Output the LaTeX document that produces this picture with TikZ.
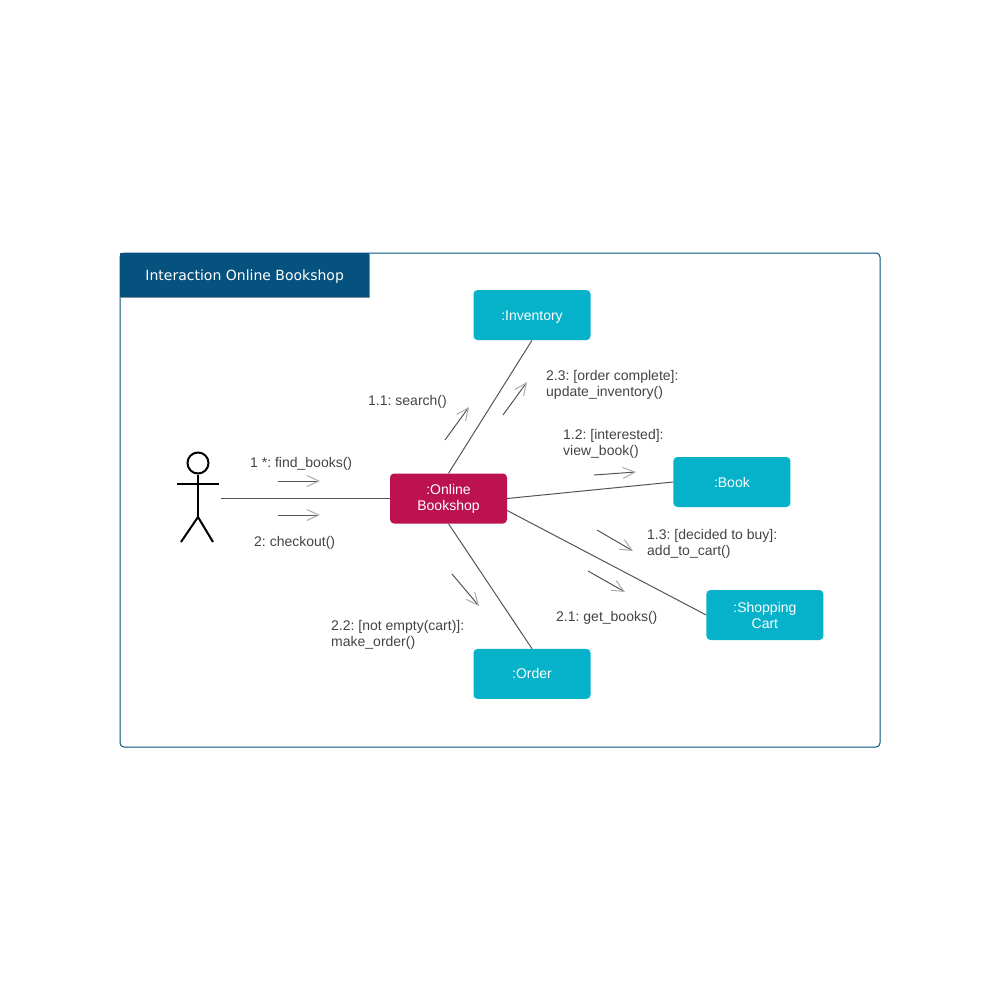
\documentclass[tikz,border=0pt]{standalone}
\usepackage{fontspec}
\setmainfont{Liberation Sans}
\newfontfamily\titlefont{DejaVu Sans}
\usetikzlibrary{arrows.meta,positioning}
\definecolor{shopCrimson}{RGB}{188, 18, 80}
\definecolor{shopTeal}{RGB}{6, 178, 201}
\definecolor{shopNavy}{RGB}{5, 82, 127}
\definecolor{shopEdge}{RGB}{130, 140, 150}
\definecolor{shopLine}{RGB}{85, 85, 85}
\definecolor{shopTip}{RGB}{170, 170, 170}
\definecolor{shopText}{RGB}{68, 68, 68}
\frenchspacing

\begin{document}
\begin{tikzpicture}[
  x=1pt, y=-1pt,
  frame/.style={draw=shopNavy, line width=1pt, rounded corners=4pt, minimum width=760pt, minimum height=494pt, anchor=north west, inner sep=0pt},
  titlebar/.style={fill=shopNavy, minimum width=250pt, minimum height=44.5pt, anchor=north west, inner sep=0pt, text=white, text height=12pt, text depth=0pt, font=\titlefont\fontsize{14}{16}\selectfont},
  part/.style={rounded corners=4pt, minimum width=117pt, minimum height=50pt, inner sep=0pt, align=center, text=white, font=\fontsize{14}{16}\selectfont},
  part teal/.style={part, fill=shopTeal},
  part single/.style={part teal, text height=10pt, text depth=0pt},
  label/.style={anchor=west, inner sep=0pt, align=left, text=shopText, font=\fontsize{14}{16}\selectfont},
  link/.style={draw=shopLine, line width=1pt},
  message/.style={draw=shopLine, line width=1pt, -{Straight Barb[length=12pt, width=11pt, color=shopTip, line width=1pt]}},
  stick/.style={draw=black, line width=2pt}
]
\useasboundingbox (0,0) rectangle (1000,1000);
\fill[white] (0,0) rectangle (1000,1000);
\node[frame] (frame) at (119.5,252.5) {};
\node[titlebar] (title) at (frame.north west) {Interaction Online Bookshop};
\draw[shopEdge, line width=1pt] (title.north east) -- (title.south east) -- (title.south west);

\node[part, fill=shopCrimson] (shop) at (448.5,498.5) {:Online\\Bookshop};
\node[part single, above=133pt of shop, xshift=83.5pt] (inventory) {:Inventory};
\node[part single, right=166pt of shop, yshift=16.5pt] (book) {:Book};
\node[part teal, right=199pt of shop, yshift=-116.5pt] (cart) {:Shopping\\Cart};
\node[part single, below=125pt of shop, xshift=83.5pt] (order) {:Order};

\node[stick, circle, minimum size=21pt, inner sep=0pt] (head) at (198,463) {};
\coordinate (hip) at (198,517);
\coordinate (shoulderL) at (177,484);
\coordinate (shoulderR) at (219,484);
\coordinate (footL) at (181,542);
\coordinate (footR) at (213,542);
\draw[stick] (head) -- (hip);
\draw[stick] (shoulderL) -- (shoulderR);
\draw[stick] (footL) -- (hip) -- (footR);

\coordinate (actor) at (221,498.5);
\draw[link] (actor) -- (shop);
\draw[link] (shop.north) -- (inventory.south);
\draw[link] (shop.east) -- (book.west);
\draw[link] ([yshift=-12pt]shop.east) -- (cart.west);
\draw[link] (shop.south) -- (order.north);

\foreach \name/\fromx/\fromy/\tox/\toy in {
  find/278/481/320/481, checkout/278/515/320/515,
  search/445/440/469/407, update/503/415/527/382,
  view/594/475/636/472, add/597/530/633/551,
  get/588/571/625/592, make/452/574/479/606}{
  \coordinate (\name from) at (\fromx,\fromy);
  \coordinate (\name to) at (\tox,\toy);
  \draw[message] (\name from) -- (\name to);
}

\node[label] (findlabel) at (250,464) {1 *: find\_books()};
\node[label] (checkoutlabel) at (254,543) {2: checkout()};
\node[label] (searchlabel) at (368,402) {1.1: search()};
\node[label] (updatelabel) at (546,385) {2.3: [order complete]:\\update\_inventory()};
\node[label] (viewlabel) at (563,444) {1.2: [interested]:\\view\_book()};
\node[label] (addlabel) at (647,544) {1.3: [decided to buy]:\\add\_to\_cart()};
\node[label] (getlabel) at (556,618) {2.1: get\_books()};
\node[label] (makelabel) at (331,635) {2.2: [not empty(cart)]:\\make\_order()};
\end{tikzpicture}
\end{document}
